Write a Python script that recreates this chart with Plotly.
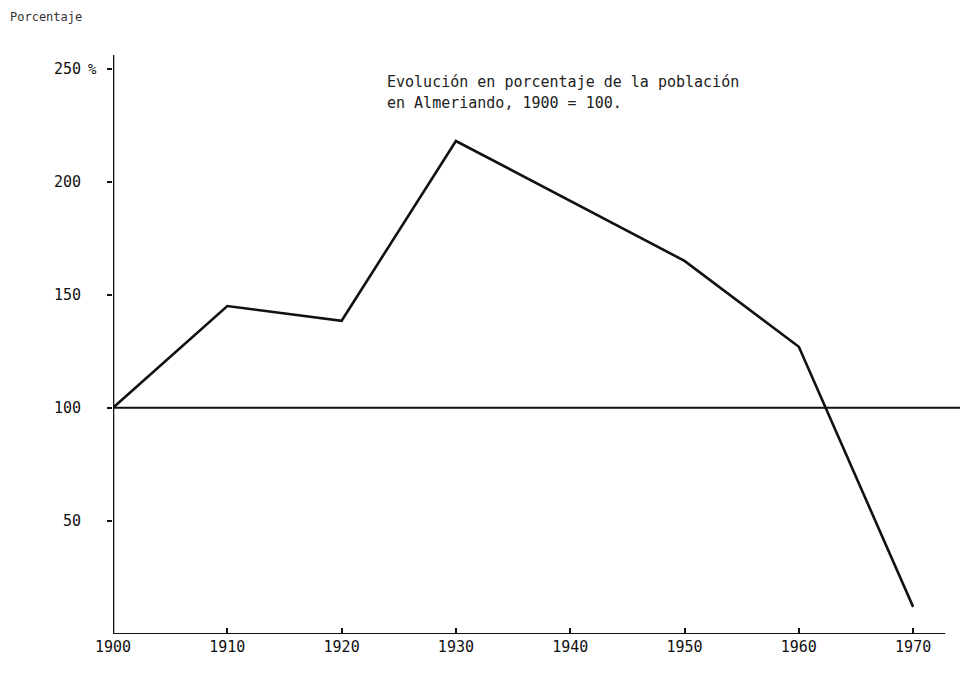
import plotly.graph_objects as go

years = [1900, 1910, 1920, 1930, 1950, 1960, 1970]
percent = [100, 145, 138.5, 218, 165, 127, 12]

x_ticks = [1900, 1910, 1920, 1930, 1940, 1950, 1960, 1970]
x_ticklabels = ["1900", "1910", "1920", "1930", "1940", "1950", "1960", "1970"]
y_ticks = [50, 100, 150, 200, 250]
y_ticklabels = ["50", "100", "150", "200", "250"]
y_unit = "%"

title_lines = ["Evolución en porcentaje de la población",
               "en Almeriando, 1900 = 100."]
y_title = "Porcentaje"

FONT = "DejaVu Sans Mono"
INK = "#111111"

fig = go.Figure()
fig.add_trace(go.Scatter(x=years, y=percent, mode="lines",
                         line=dict(color=INK, width=2.6), showlegend=False,
                         hoverinfo="x+y"))

shapes = [
    dict(type="line", xref="x", yref="y", x0=1900, x1=1976, y0=100, y1=100,
         line=dict(color=INK, width=2)),
    dict(type="line", xref="x", yref="y", x0=1900, x1=1972.8, y0=0, y1=0,
         line=dict(color=INK, width=2.2)),
    dict(type="line", xref="x", yref="y", x0=1900, x1=1900, y0=0, y1=256,
         line=dict(color=INK, width=2.6)),
]

fig.update_layout(
    width=968, height=674,
    margin=dict(l=105, r=8, t=38, b=48),
    paper_bgcolor="white", plot_bgcolor="white",
    font=dict(family=FONT, color=INK, size=15),
    shapes=shapes,
    xaxis=dict(range=[1900, 1974.8], tickvals=x_ticks, ticktext=x_ticklabels,
               showgrid=False, zeroline=False, showline=False,
               ticks="inside", ticklen=6, tickwidth=1.5, tickcolor=INK,
               ticklabelstandoff=2, tickfont=dict(size=15, family=FONT)),
    yaxis=dict(range=[0, 260], tickvals=y_ticks, ticktext=y_ticklabels,
               showgrid=False, zeroline=False, showline=False,
               ticks="outside", ticklen=5, tickwidth=1.5, tickcolor=INK,
               ticklabelstandoff=23, tickfont=dict(size=15, family=FONT)),
    annotations=[
        dict(text=y_title, xref="paper", yref="paper", x=-105/855, y=1 + 38/588,
             xanchor="left", yanchor="top", showarrow=False,
             font=dict(size=12, family=FONT, color="#333333")),
        dict(text=y_unit, xref="paper", yref="y", x=-14/855, y=250,
             xanchor="right", yanchor="middle", showarrow=False,
             font=dict(size=14, family=FONT, color=INK)),
        dict(text=title_lines[0], xref="x", yref="y", x=1923.8, y=244,
             xanchor="left", yanchor="middle", showarrow=False,
             font=dict(size=15, family=FONT, color="#222222")),
        dict(text=title_lines[1], xref="x", yref="y", x=1923.8, y=235,
             xanchor="left", yanchor="middle", showarrow=False,
             font=dict(size=15, family=FONT, color="#222222")),
    ],
)

fig.write_html("out.html")
